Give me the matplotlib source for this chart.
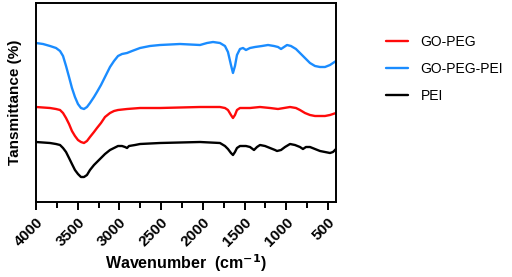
import matplotlib
matplotlib.use('Agg')
import matplotlib.pyplot as plt
from matplotlib.ticker import MultipleLocator

plt.rcParams['font.family'] = ['Liberation Sans', 'DejaVu Sans']

# wavenumber (cm-1) and relative transmittance (arbitrary, offset traces)
wn_goppei = [4000, 3916, 3832, 3760, 3712, 3676, 3640, 3604, 3569, 3533,
             3497, 3461, 3425, 3389, 3353, 3305, 3269, 3221, 3173, 3113,
             3065, 3017, 2969, 2909, 2849, 2753, 2634, 2514, 2274, 2034,
             1950, 1878, 1795, 1735, 1699, 1663, 1639, 1615, 1591, 1555,
             1519, 1483, 1435, 1375, 1291, 1219, 1147, 1099, 1063, 1027,
             991, 944, 884, 836, 776, 716, 656, 596, 536, 476, 404]
t_goppei = [159, 158, 156, 154, 151, 146, 136, 125, 114, 105,
            98, 94, 93, 95, 99, 105, 110, 117, 125, 135,
            141, 146, 148, 149, 151, 154, 156, 157, 158, 157,
            159, 160, 159, 156, 150, 137, 129, 136, 147, 153,
            154, 152, 154, 155, 156, 157, 156, 155, 153, 155,
            157, 156, 153, 149, 144, 139, 136, 135, 135, 137, 141]

wn_gopeg = [4000, 3832, 3760, 3712, 3676, 3640, 3604, 3569, 3533, 3497,
            3461, 3425, 3389, 3353, 3305, 3269, 3221, 3173, 3113, 3065,
            3017, 2909, 2753, 2514, 2034, 1795, 1735, 1699, 1663, 1639,
            1615, 1591, 1555, 1435, 1315, 1195, 1099, 1027, 955, 884,
            836, 776, 716, 656, 596, 536, 476, 404]
t_gopeg = [95, 94, 93, 92, 89, 84, 78, 71, 66, 62,
           60, 59, 61, 65, 70, 74, 79, 85, 89, 91,
           92, 93, 94, 94, 95, 95, 94, 92, 87, 84,
           87, 92, 94, 94, 95, 94, 93, 94, 95, 94,
           92, 89, 87, 86, 86, 86, 87, 89]

wn_pei = [4000, 3832, 3760, 3712, 3676, 3640, 3604, 3569, 3533, 3497,
          3461, 3425, 3389, 3353, 3305, 3269, 3221, 3173, 3113, 3065,
          3017, 2969, 2933, 2909, 2885, 2813, 2753, 2514, 2034, 1795,
          1735, 1699, 1663, 1639, 1615, 1591, 1555, 1483, 1435, 1387,
          1351, 1315, 1255, 1195, 1135, 1111, 1063, 1015, 955, 896,
          836, 800, 764, 716, 656, 596, 536, 476, 440, 404]
t_pei = [60, 59, 58, 57, 54, 50, 44, 38, 32, 28,
         25, 25, 27, 32, 37, 40, 44, 48, 52, 54,
         56, 56, 55, 54, 56, 57, 58, 59, 60, 59,
         56, 53, 49, 47, 50, 54, 56, 56, 55, 52,
         55, 57, 56, 54, 52, 51, 52, 55, 58, 57,
         55, 53, 55, 55, 53, 51, 50, 49, 50, 53]

fig = plt.figure(figsize=(5.12, 2.77), dpi=100)
ax = fig.add_axes([36 / 512, 75 / 277, 300 / 512, 199 / 277])

style = dict(lw=1.7, solid_joinstyle='round', solid_capstyle='round')
ax.plot(wn_gopeg, t_gopeg, color='#ff0a0a', label='GO-PEG', **style)
ax.plot(wn_goppei, t_goppei, color='#1a8cff', label='GO-PEG-PEI', **style)
ax.plot(wn_pei, t_pei, color='black', label='PEI', **style)

ax.set_xlim(4000, 404)
ax.set_ylim(0, 199)
ax.xaxis.set_major_locator(MultipleLocator(500))
ax.xaxis.set_minor_locator(MultipleLocator(250))
ax.set_yticks([])
ax.tick_params(axis='x', which='major', length=6, width=1.4, direction='out')
ax.tick_params(axis='x', which='minor', length=4, width=1.4, direction='out')
for s in ax.spines.values():
    s.set_linewidth(1.4)
for lab in ax.get_xticklabels():
    lab.set_rotation(45)
    lab.set_ha('right')
    lab.set_rotation_mode('anchor')
    lab.set_fontweight('bold')
    lab.set_fontsize(11)

ax.set_xlabel('Wavenumber  (cm$^{\\mathbf{-1}}$)', fontsize=11.5,
              fontweight='bold', labelpad=2)
ax.set_ylabel('Tansmittance (%)', fontsize=11, fontweight='bold', labelpad=10)

ax.legend(loc='upper left', bbox_to_anchor=(379 / 512, 1 - 28 / 277),
          bbox_transform=fig.transFigure, frameon=False, fontsize=10,
          handlelength=1.6, handletextpad=0.9, labelspacing=0.95,
          borderpad=0)

plt.savefig('out.png', dpi=100)
